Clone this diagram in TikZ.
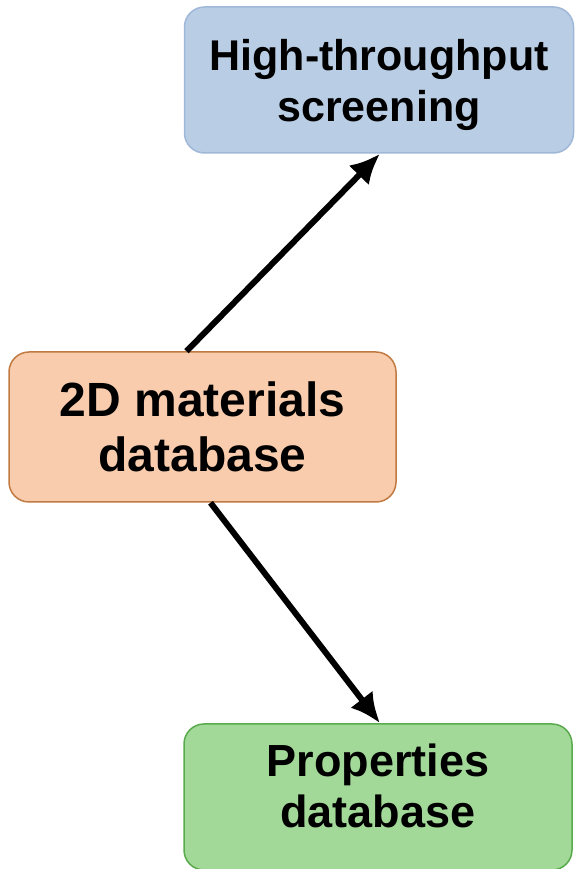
\documentclass[tikz,border=0pt]{standalone}
\usepackage{fontspec}
\setmainfont{Liberation Sans}
\usetikzlibrary{arrows.meta}

\definecolor{screenfill}{RGB}{185,205,229}
\definecolor{screenline}{RGB}{160,184,216}
\definecolor{dbfill}{RGB}{248,204,173}
\definecolor{dbline}{RGB}{192,122,66}
\definecolor{propfill}{RGB}{163,217,152}
\definecolor{propline}{RGB}{88,170,76}

\begin{document}
\begin{tikzpicture}[x=1pt,y=1pt,>={Latex[length=30pt,width=28pt]},
    box/.style={rectangle,rounded corners=20pt,line width=1.5pt,align=center,
      font=\bfseries,inner sep=0pt},
    link/.style={->,line width=6pt}]
        \useasboundingbox (0,0) rectangle (574,869);

        % The three boxes
        \node [box,fill=screenfill,draw=screenline,minimum width=389pt,minimum height=146pt,
          font=\fontsize{43}{51}\selectfont\bfseries,text depth=0pt]
          (screen) at (379,789) {High-throughput\\screening};
        \node [box,fill=dbfill,draw=dbline,minimum width=387pt,minimum height=150pt,
          font=\fontsize{48}{55}\selectfont\bfseries]
          (db) at (202.5,442) {2D materials\\database};
        \node [box,fill=propfill,draw=propline,minimum width=388pt,minimum height=146pt,
          font=\fontsize{45}{51}\selectfont\bfseries,text depth=22pt]
          (props) at (378,72) {Properties\\database};

        % Arrows out of the database
        \draw [link] ([xshift=-16pt]db.north) -- ([xshift=1pt]screen.south);
        \draw [link] ([xshift=8pt]db.south) -- ([xshift=2pt]props.north);
    \end{tikzpicture}
\end{document}
